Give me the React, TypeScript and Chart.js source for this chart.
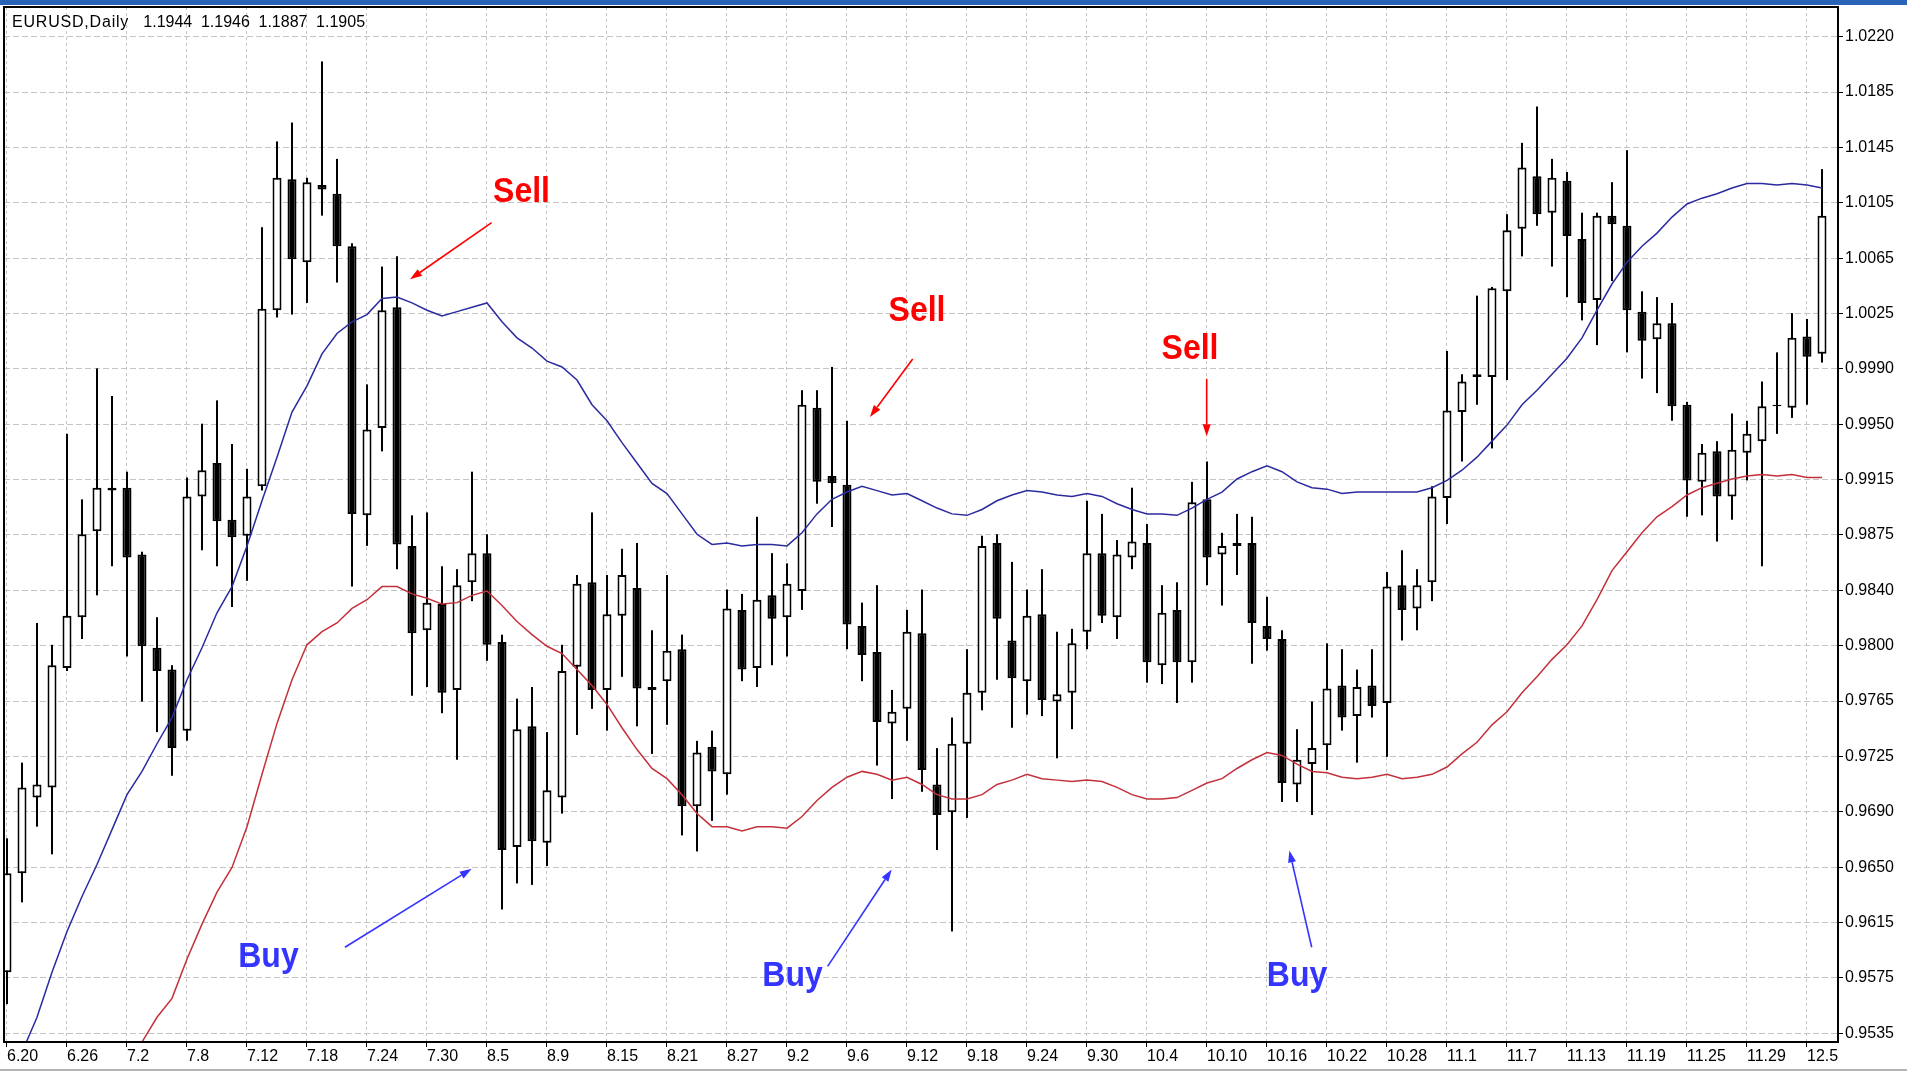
import React, { useEffect, useRef } from 'react';
import { Chart, registerables } from 'chart.js';

Chart.register(...registerables);

const W = 1907;
const H = 1071;

// ---- header text ----
const headerSymbol = 'EURUSD,Daily';
const headerPrices = ['1.1944', '1.1946', '1.1887', '1.1905'];

// ---- axis labels ----
const dateLabels = ['6.20', '6.26', '7.2', '7.8', '7.12', '7.18', '7.24', '7.30', '8.5', '8.9', '8.15', '8.21', '8.27', '9.2', '9.6', '9.12', '9.18', '9.24', '9.30', '10.4', '10.10', '10.16', '10.22', '10.28', '11.1', '11.7', '11.13', '11.19', '11.25', '11.29', '12.5'];
const priceLabels = ['1.0220', '1.0185', '1.0145', '1.0105', '1.0065', '1.0025', '0.9990', '0.9950', '0.9915', '0.9875', '0.9840', '0.9800', '0.9765', '0.9725', '0.9690', '0.9650', '0.9615', '0.9575', '0.9535'];
const Y_TOP = 1.022;
const Y_STEP = 0.0685 / 18;
const BARS_PER_LABEL = 4;

// ---- candles (daily OHLC) ----
const opens = [
  0.9577, 0.9645, 0.9697, 0.9704, 0.9786, 0.9821, 0.9880, 0.9910, 0.9910, 0.9864,
  0.9800, 0.9785, 0.9743, 0.9904, 0.9927, 0.9888, 0.9877, 0.9911, 1.0032, 1.0122,
  1.0065, 1.0118, 1.0112, 1.0076, 0.9891, 0.9951, 1.0034, 0.9870, 0.9812, 0.9830,
  0.9771, 0.9845, 0.9865, 0.9804, 0.9663, 0.9746, 0.9666, 0.9697, 0.9787, 0.9845,
  0.9771, 0.9822, 0.9841, 0.9771, 0.9777, 0.9799, 0.9691, 0.9732, 0.9713, 0.9826,
  0.9786, 0.9836, 0.9821, 0.9839, 0.9965, 0.9918, 0.9912, 0.9815, 0.9797, 0.9748,
  0.9758, 0.9810, 0.9706, 0.9687, 0.9734, 0.9769, 0.9872, 0.9805, 0.9777, 0.9823,
  0.9763, 0.9769, 0.9811, 0.9865, 0.9821, 0.9862, 0.9872, 0.9788, 0.9826, 0.9790,
  0.9902, 0.9864, 0.9872, 0.9872, 0.9815, 0.9806, 0.9706, 0.9720, 0.9733, 0.9774,
  0.9753, 0.9774, 0.9762, 0.9843, 0.9827, 0.9845, 0.9903, 0.9962, 0.9986, 0.9986,
  1.0045, 1.0088, 1.0124, 1.0099, 1.0121, 1.0081, 1.0039, 1.0097, 1.0090, 1.0031,
  1.0012, 1.0023, 0.9967, 0.9914, 0.9935, 0.9904, 0.9934, 0.9942, 0.9967, 0.9965,
  1.0014, 1.0002,
];
const highs = [
  0.9669, 0.9721, 0.9817, 0.9802, 0.9947, 0.9902, 0.9992, 0.9973, 0.9921, 0.9866,
  0.9821, 0.9788, 0.9917, 0.9954, 0.9970, 0.9940, 0.9923, 1.0089, 1.0148, 1.0161,
  1.0123, 1.0203, 1.0136, 1.0078, 0.9981, 1.0062, 1.0069, 0.9891, 0.9893, 0.9856,
  0.9854, 0.9921, 0.9878, 0.9809, 0.9765, 0.9773, 0.9742, 0.9802, 0.9850, 0.9893,
  0.9850, 0.9868, 0.9872, 0.9812, 0.9850, 0.9809, 0.9736, 0.9743, 0.9840, 0.9837,
  0.9890, 0.9865, 0.9858, 0.9977, 0.9977, 0.9993, 0.9956, 0.9831, 0.9843, 0.9771,
  0.9826, 0.9840, 0.9731, 0.9752, 0.9799, 0.9877, 0.9878, 0.9859, 0.9840, 0.9854,
  0.9811, 0.9813, 0.9901, 0.9892, 0.9874, 0.9910, 0.9885, 0.9843, 0.9845, 0.9914,
  0.9928, 0.9879, 0.9892, 0.9890, 0.9835, 0.9812, 0.9744, 0.9763, 0.9803, 0.9799,
  0.9785, 0.9799, 0.9852, 0.9867, 0.9854, 0.9911, 1.0004, 0.9988, 1.0042, 1.0048,
  1.0098, 1.0147, 1.0172, 1.0136, 1.0127, 1.0099, 1.0099, 1.0120, 1.0142, 1.0045,
  1.0041, 1.0037, 0.9969, 0.9940, 0.9942, 0.9961, 0.9956, 0.9983, 1.0003, 1.0030,
  1.0026, 1.0129,
];
const lows = [
  0.9555, 0.9625, 0.9677, 0.9658, 0.9784, 0.9806, 0.9836, 0.9856, 0.9794, 0.9763,
  0.9742, 0.9712, 0.9736, 0.9867, 0.9856, 0.9828, 0.9846, 0.9908, 1.0027, 1.0029,
  1.0037, 1.0097, 1.0051, 0.9842, 0.9870, 0.9935, 0.9854, 0.9767, 0.9773, 0.9755,
  0.9723, 0.9832, 0.9791, 0.9620, 0.9638, 0.9637, 0.9650, 0.9686, 0.9740, 0.9758,
  0.9743, 0.9780, 0.9746, 0.9727, 0.9747, 0.9671, 0.9660, 0.9681, 0.9699, 0.9777,
  0.9773, 0.9788, 0.9794, 0.9826, 0.9899, 0.9883, 0.9799, 0.9777, 0.9719, 0.9696,
  0.9736, 0.9701, 0.9661, 0.9605, 0.9683, 0.9757, 0.9778, 0.9745, 0.9754, 0.9753,
  0.9724, 0.9744, 0.9799, 0.9817, 0.9806, 0.9854, 0.9776, 0.9775, 0.9762, 0.9776,
  0.9843, 0.9829, 0.9850, 0.9789, 0.9798, 0.9694, 0.9694, 0.9685, 0.9716, 0.9743,
  0.9721, 0.9752, 0.9725, 0.9805, 0.9812, 0.9832, 0.9885, 0.9928, 0.9967, 0.9937,
  0.9984, 1.0069, 1.0090, 1.0062, 1.0041, 1.0025, 1.0008, 1.0052, 1.0003, 0.9985,
  0.9975, 0.9956, 0.9890, 0.9891, 0.9873, 0.9888, 0.9915, 0.9856, 0.9947, 0.9958,
  0.9967, 0.9996,
];
const closes = [
  0.9645, 0.9704, 0.9706, 0.9788, 0.9822, 0.9878, 0.9910, 0.9908, 0.9862, 0.9801,
  0.9784, 0.9731, 0.9904, 0.9922, 0.9887, 0.9876, 0.9904, 1.0033, 1.0123, 1.0067,
  1.0120, 1.0115, 1.0076, 0.9892, 0.9950, 1.0032, 0.9871, 0.9810, 0.9831, 0.9769,
  0.9843, 0.9865, 0.9802, 0.9661, 0.9744, 0.9667, 0.9702, 0.9784, 0.9844, 0.9771,
  0.9823, 0.9850, 0.9772, 0.9773, 0.9798, 0.9691, 0.9728, 0.9715, 0.9827, 0.9785,
  0.9833, 0.9820, 0.9844, 0.9967, 0.9914, 0.9913, 0.9816, 0.9795, 0.9749, 0.9756,
  0.9811, 0.9716, 0.9685, 0.9734, 0.9769, 0.9870, 0.9820, 0.9779, 0.9822, 0.9764,
  0.9768, 0.9803, 0.9865, 0.9822, 0.9864, 0.9873, 0.9790, 0.9824, 0.9790, 0.9900,
  0.9862, 0.9870, 0.9870, 0.9817, 0.9806, 0.9707, 0.9723, 0.9731, 0.9772, 0.9752,
  0.9773, 0.9760, 0.9842, 0.9826, 0.9843, 0.9904, 0.9963, 0.9983, 0.9988, 1.0047,
  1.0087, 1.0130, 1.0098, 1.0123, 1.0083, 1.0037, 1.0097, 1.0091, 1.0032, 1.0011,
  1.0023, 0.9966, 0.9915, 0.9934, 0.9904, 0.9936, 0.9947, 0.9966, 0.9966, 1.0013,
  1.0000, 1.0097,
];

// ---- moving averages ----
const maFast = [
  0.9485, 0.9522, 0.9546, 0.9577, 0.9605, 0.9629, 0.9651, 0.9675, 0.9699, 0.9715,
  0.9734, 0.9752, 0.9778, 0.9800, 0.9824, 0.9842, 0.9870, 0.9901, 0.9931, 0.9962,
  0.9980, 1.0002, 1.0016, 1.0024, 1.0029, 1.0040, 1.0041, 1.0037, 1.0032, 1.0028,
  1.0031, 1.0034, 1.0037, 1.0024, 1.0013, 1.0006, 0.9997, 0.9993, 0.9984, 0.9967,
  0.9956, 0.9941, 0.9927, 0.9913, 0.9906, 0.9892, 0.9878, 0.9871, 0.9872, 0.9870,
  0.9871, 0.9871, 0.9870, 0.9879, 0.9892, 0.9902, 0.9907, 0.9911, 0.9908, 0.9905,
  0.9906, 0.9901, 0.9896, 0.9892, 0.9891, 0.9895, 0.9901, 0.9905, 0.9908, 0.9907,
  0.9905, 0.9904, 0.9906, 0.9904, 0.9899, 0.9895, 0.9892, 0.9892, 0.9891, 0.9896,
  0.9902, 0.9907, 0.9916, 0.9921, 0.9925, 0.9921, 0.9914, 0.9910, 0.9909, 0.9906,
  0.9907, 0.9907, 0.9907, 0.9907, 0.9907, 0.9910, 0.9915, 0.9922, 0.9931, 0.9942,
  0.9953, 0.9967, 0.9977, 0.9988, 0.9999, 1.0013, 1.0032, 1.0050, 1.0065, 1.0076,
  1.0085, 1.0096, 1.0105, 1.0109, 1.0112, 1.0116, 1.0119, 1.0119, 1.0118, 1.0119,
  1.0118, 1.0116,
];
const maSlow: (number | null)[] = [
  null, null, null, null, null, null, null, 0.9489, 0.9509, 0.9529,
  0.9546, 0.9559, 0.9586, 0.9610, 0.9632, 0.9649, 0.9677, 0.9713, 0.9748, 0.9778,
  0.9802, 0.9811, 0.9817, 0.9827, 0.9833, 0.9842, 0.9842, 0.9837, 0.9834, 0.9830,
  0.9831, 0.9836, 0.9839, 0.9829, 0.9818, 0.9809, 0.9801, 0.9796, 0.9785, 0.9774,
  0.9761, 0.9745, 0.9730, 0.9717, 0.9710, 0.9699, 0.9686, 0.9677, 0.9677, 0.9674,
  0.9677, 0.9677, 0.9676, 0.9684, 0.9695, 0.9704, 0.9711, 0.9715, 0.9713, 0.9709,
  0.9711, 0.9706, 0.9699, 0.9696, 0.9696, 0.9699, 0.9706, 0.9709, 0.9713, 0.9710,
  0.9709, 0.9708, 0.9709, 0.9708, 0.9704, 0.9699, 0.9696, 0.9696, 0.9697, 0.9702,
  0.9707, 0.9710, 0.9717, 0.9723, 0.9728, 0.9726, 0.9720, 0.9715, 0.9714, 0.9711,
  0.9710, 0.9711, 0.9713, 0.9710, 0.9711, 0.9713, 0.9718, 0.9727, 0.9735, 0.9747,
  0.9756, 0.9769, 0.9780, 0.9792, 0.9802, 0.9815, 0.9833, 0.9853, 0.9866, 0.9879,
  0.9890, 0.9897, 0.9905, 0.9910, 0.9913, 0.9916, 0.9918, 0.9919, 0.9918, 0.9919,
  0.9917, 0.9917,
];

// ---- annotations (bar index / price) ----
const noteTexts = ['Sell', 'Sell', 'Sell', 'Buy', 'Buy', 'Buy'];
const noteBar = [34.3, 60.67, 78.87, 17.43, 52.37, 86.0];
const notePrice = [1.01066, 1.00243, 0.99985, 0.95806, 0.95676, 0.95676];
const arrowFromBar = [32.31, 60.38, 79.98, 22.53, 54.71, 86.98];
const arrowFromPrice = [1.00922, 0.99984, 0.99848, 0.95941, 0.9581, 0.95941];
const arrowToBar = [26.87, 57.53, 79.98, 30.98, 58.98, 85.49];
const arrowToPrice = [1.00532, 0.99586, 0.99454, 0.9648, 0.96476, 0.96607];

const SELL_COLOR = '#ff0000';
const BUY_COLOR = '#3434ff';
const FONT = 'Liberation Sans';

const decorPlugin = {
  id: 'decor',
  beforeDraw(chart: any) {
    const ctx = chart.ctx;
    ctx.save();
    ctx.fillStyle = '#ffffff';
    ctx.fillRect(0, 0, chart.width, chart.height);
    ctx.fillStyle = '#2a62b8';
    ctx.fillRect(0, 0, chart.width, 5);
    ctx.fillStyle = '#b4b4b4';
    ctx.fillRect(0, chart.height - 2, chart.width, 2);
    ctx.restore();
  },
  afterDraw(chart: any) {
    const { ctx, chartArea: a, scales } = chart;
    const sx = scales.x;
    const sy = scales.y;
    ctx.save();
    // frame
    ctx.strokeStyle = '#000';
    ctx.lineWidth = 2;
    ctx.setLineDash([]);
    ctx.strokeRect(a.left, a.top, a.right - a.left, a.bottom - a.top);

    // header
    ctx.fillStyle = '#000';
    ctx.textAlign = 'left';
    ctx.textBaseline = 'alphabetic';
    ctx.font = `16px "${FONT}"`;
    (ctx as any).letterSpacing = '0.8px';
    ctx.fillText(headerSymbol, a.left + 8, a.top + 19.7);
    (ctx as any).letterSpacing = '0px';
    headerPrices.forEach((p, i) => ctx.fillText(p, a.left + 139.3 + i * 57.6, a.top + 19.7));

    // annotations
    noteTexts.forEach((t, i) => {
      const color = t === 'Sell' ? SELL_COLOR : BUY_COLOR;
      const tx = sx.getPixelForValue(noteBar[i]);
      const ty = sy.getPixelForValue(notePrice[i]);
      ctx.save();
      ctx.translate(tx, ty);
      ctx.scale(1, 1.1);
      ctx.font = `bold 32px "${FONT}"`;
      ctx.fillStyle = color;
      ctx.textAlign = 'center';
      ctx.textBaseline = 'alphabetic';
      ctx.fillText(t, 0, 0);
      ctx.restore();

      const x1 = sx.getPixelForValue(arrowFromBar[i]);
      const y1 = sy.getPixelForValue(arrowFromPrice[i]);
      const x2 = sx.getPixelForValue(arrowToBar[i]);
      const y2 = sy.getPixelForValue(arrowToPrice[i]);
      const ang = Math.atan2(y2 - y1, x2 - x1);
      const headLen = 12;
      const headHalf = 4;
      const bx = x2 - Math.cos(ang) * headLen;
      const by = y2 - Math.sin(ang) * headLen;
      ctx.strokeStyle = color;
      ctx.lineWidth = 1.6;
      ctx.beginPath();
      ctx.moveTo(x1, y1);
      ctx.lineTo(bx, by);
      ctx.stroke();
      ctx.fillStyle = color;
      ctx.beginPath();
      ctx.moveTo(x2, y2);
      ctx.lineTo(bx + Math.sin(ang) * headHalf, by - Math.cos(ang) * headHalf);
      ctx.lineTo(bx - Math.sin(ang) * headHalf, by + Math.cos(ang) * headHalf);
      ctx.closePath();
      ctx.fill();
    });
    ctx.restore();
  },
};

export default function App() {
  const ref = useRef<HTMLCanvasElement | null>(null);

  useEffect(() => {
    if (!ref.current) return;
    const idx = opens.map((_, i) => i);
    const bodies = idx.map((i) => ({ x: i, y: [opens[i], closes[i]] }));
    const wicks = idx.map((i) => ({ x: i, y: [lows[i], highs[i]] }));
    const bodyFill = idx.map((i) => (closes[i] >= opens[i] ? '#ffffff' : '#000000'));
    const fastPts = maFast.map((v, i) => ({ x: i, y: v }));
    const slowPts = maSlow
      .map((v, i) => (v == null ? null : { x: i, y: v }))
      .filter((p) => p !== null);

    const chart = new Chart(ref.current, {
      type: 'bar',
      data: {
        datasets: [
          {
            type: 'line',
            data: fastPts,
            borderColor: '#2b2ba0',
            borderWidth: 1.5,
            pointRadius: 0,
            tension: 0,
            fill: false,
          } as any,
          {
            type: 'line',
            data: slowPts,
            borderColor: '#c4303a',
            borderWidth: 1.5,
            pointRadius: 0,
            tension: 0,
            fill: false,
          } as any,
          {
            type: 'bar',
            data: bodies,
            backgroundColor: bodyFill,
            borderColor: '#000000',
            borderWidth: 2,
            borderSkipped: false,
            barThickness: 9,
            grouped: false,
            inflateAmount: 0,
          } as any,
          {
            type: 'bar',
            data: wicks,
            backgroundColor: '#000000',
            borderWidth: 0,
            barThickness: 2,
            grouped: false,
            inflateAmount: 0,
          } as any,
        ],
      },
      options: {
        responsive: false,
        animation: false,
        events: [],
        layout: { padding: { left: 4, top: 7, right: 0, bottom: 0 }, autoPadding: false },
        plugins: { legend: { display: false }, tooltip: { enabled: false }, title: { display: false } },
        scales: {
          x: {
            type: 'linear',
            position: 'bottom',
            min: -0.2,
            max: 122.067,
            offset: false,
            grid: {
              color: '#c4c4c4',
              lineWidth: 1,
              offset: false,
              drawTicks: true,
              tickLength: 5,
              tickColor: '#000000',
              tickWidth: 1,
              tickBorderDash: [],
            },
            border: { display: false, dash: [3, 3] },
            ticks: {
              autoSkip: false,
              maxRotation: 0,
              minRotation: 0,
              align: 'start',
              padding: 0,
              color: '#000000',
              font: { family: FONT, size: 16 },
              callback: (v: any) => dateLabels[Math.round(Number(v) / BARS_PER_LABEL)] ?? '',
            },
            afterBuildTicks: (s: any) => {
              s.ticks = dateLabels.map((_, k) => ({ value: k * BARS_PER_LABEL }));
            },
            afterFit: (s: any) => {
              s.height = 29;
              s.paddingLeft = 0;
              s.paddingRight = 0;
              s.paddingTop = 0;
              s.paddingBottom = 0;
            },
          } as any,
          y: {
            type: 'linear',
            position: 'right',
            min: 0.9529,
            max: 1.02404,
            beginAtZero: false,
            grid: {
              color: '#c4c4c4',
              lineWidth: 1,
              drawTicks: true,
              tickLength: 5,
              tickColor: '#000000',
              tickWidth: 1,
              tickBorderDash: [],
            },
            border: { display: false, dash: [6, 3] },
            ticks: {
              padding: 2,
              color: '#000000',
              font: { family: FONT, size: 16 },
              callback: (v: any) => priceLabels[Math.round((Y_TOP - Number(v)) / Y_STEP)] ?? '',
            },
            afterBuildTicks: (s: any) => {
              const arr = priceLabels.map((_, k) => ({ value: Y_TOP - k * Y_STEP }));
              arr.reverse();
              s.ticks = arr;
            },
            afterFit: (s: any) => {
              s.width = 69;
              s.paddingLeft = 0;
              s.paddingRight = 0;
              s.paddingTop = 0;
              s.paddingBottom = 0;
            },
          } as any,
        },
      } as any,
      plugins: [decorPlugin as any],
    });
    return () => chart.destroy();
  }, []);

  return (
    <div style={{ position: 'fixed', left: 0, top: 0, width: W, height: H, background: '#fff' }}>
      <canvas ref={ref} width={W} height={H} style={{ display: 'block', width: W, height: H }} />
    </div>
  );
}
